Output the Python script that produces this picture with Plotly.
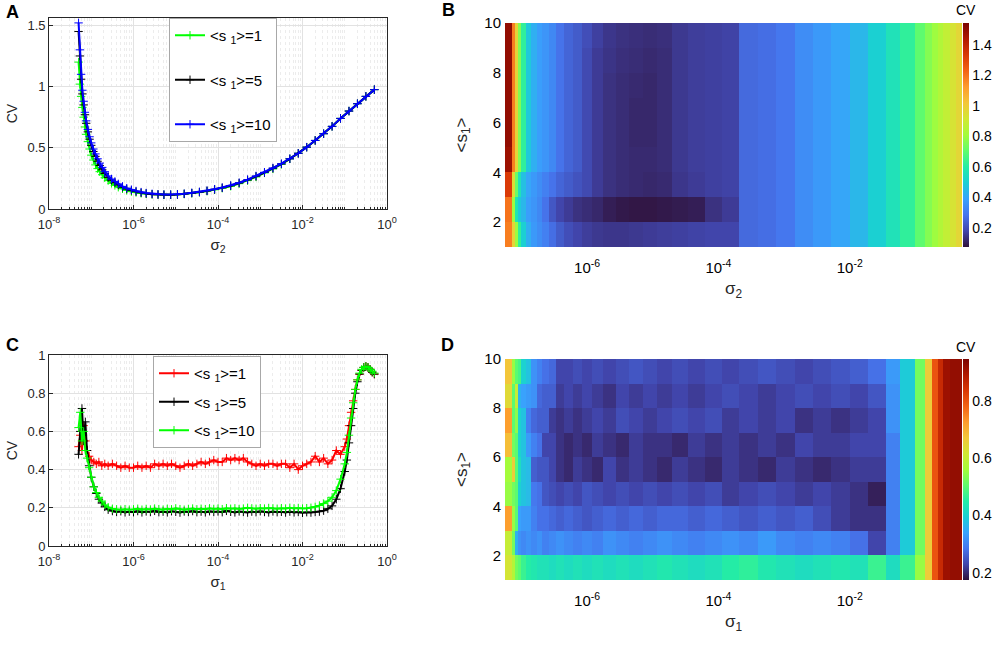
import plotly.graph_objects as go

# ---- panel A: CV vs sigma_2 (log10 of sigma_2) ----
sig2_exp = [-7.30, -7.27, -7.24, -7.21, -7.18, -7.15, -7.12, -7.08, -7.04, -7.00,
            -6.95, -6.90, -6.85, -6.80, -6.74, -6.68, -6.60, -6.52, -6.44, -6.36,
            -6.26, -6.16, -6.05, -5.94, -5.82, -5.70, -5.56, -5.42, -5.28, -5.12,
            -4.96, -4.80, -4.62, -4.44, -4.26, -4.08, -3.90, -3.70, -3.50, -3.30,
            -3.10, -2.90, -2.70, -2.50, -2.30, -2.10, -1.90, -1.70, -1.50, -1.30,
            -1.10, -0.90, -0.70, -0.50, -0.30]
cv_a_s1 = [1.20, 1.02, 0.92, 0.83, 0.75, 0.67, 0.61, 0.55, 0.49, 0.44,
           0.40, 0.36, 0.33, 0.305, 0.28, 0.255, 0.232, 0.21, 0.193, 0.178,
           0.165, 0.152, 0.142, 0.135, 0.128, 0.124, 0.12, 0.118, 0.116, 0.117,
           0.119, 0.123, 0.129, 0.137, 0.146, 0.157, 0.17, 0.186, 0.207, 0.232,
           0.262, 0.295, 0.327, 0.365, 0.41, 0.455, 0.505, 0.56, 0.615, 0.675,
           0.74, 0.80, 0.86, 0.92, 0.975]
cv_a_s5 = [1.45, 1.25, 1.06, 0.94, 0.85, 0.77, 0.70, 0.63, 0.57, 0.52,
           0.47, 0.43, 0.39, 0.355, 0.32, 0.29, 0.258, 0.235, 0.215, 0.197,
           0.178, 0.163, 0.152, 0.142, 0.133, 0.126, 0.121, 0.118, 0.116, 0.116,
           0.118, 0.123, 0.13, 0.138, 0.148, 0.16, 0.173, 0.19, 0.212, 0.237,
           0.267, 0.298, 0.332, 0.368, 0.41, 0.455, 0.505, 0.56, 0.615, 0.675,
           0.74, 0.80, 0.86, 0.92, 0.975]
cv_a_s10 = [1.52, 1.30, 1.10, 0.97, 0.88, 0.79, 0.72, 0.65, 0.59, 0.54,
            0.49, 0.45, 0.41, 0.375, 0.34, 0.305, 0.27, 0.245, 0.225, 0.205,
            0.185, 0.17, 0.158, 0.147, 0.138, 0.13, 0.124, 0.12, 0.118, 0.118,
            0.12, 0.125, 0.132, 0.14, 0.15, 0.162, 0.175, 0.192, 0.215, 0.24,
            0.27, 0.30, 0.335, 0.37, 0.41, 0.455, 0.505, 0.56, 0.615, 0.675,
            0.74, 0.80, 0.86, 0.92, 0.975]

# ---- panel C: CV vs sigma_1 (log10 of sigma_1) ----
sig1_exp = [-7.30, -7.26, -7.22, -7.18, -7.14, -7.10, -7.05, -7.00, -6.94, -6.88,
            -6.82, -6.75, -6.68, -6.60, -6.50, -6.40, -6.30, -6.20, -6.10,
            -6.0, -5.9, -5.8, -5.7, -5.6, -5.5, -5.4, -5.3, -5.2, -5.1,
            -5.0, -4.9, -4.8, -4.7, -4.6, -4.5, -4.4, -4.3, -4.2, -4.1,
            -4.0, -3.9, -3.8, -3.7, -3.6, -3.5, -3.4, -3.3, -3.2, -3.1,
            -3.0, -2.9, -2.8, -2.7, -2.6, -2.5, -2.4, -2.3, -2.2, -2.1,
            -2.0, -1.9, -1.8, -1.7, -1.6, -1.5, -1.4, -1.3,
            -1.20, -1.10, -1.00, -0.95, -0.90, -0.85, -0.80, -0.75, -0.70, -0.65,
            -0.60, -0.55, -0.50, -0.45, -0.40, -0.35, -0.30]
cv_c_s1 = [0.52, 0.58, 0.50, 0.63, 0.55, 0.50, 0.47, 0.45, 0.44, 0.43,
           0.44, 0.42, 0.43, 0.42, 0.43, 0.42, 0.41, 0.42, 0.41,
           0.41, 0.42, 0.41, 0.42, 0.41, 0.43, 0.42, 0.43, 0.42, 0.43,
           0.42, 0.41, 0.42, 0.43, 0.42, 0.43, 0.44, 0.43, 0.44, 0.45,
           0.44, 0.44, 0.46, 0.45, 0.46, 0.45, 0.46, 0.44, 0.43, 0.42,
           0.43, 0.42, 0.43, 0.43, 0.42, 0.43, 0.43, 0.41, 0.43, 0.40,
           0.42, 0.43, 0.44, 0.47, 0.44, 0.46, 0.43, 0.45,
           0.50, 0.48, 0.52, 0.56, 0.63, 0.70, 0.76, 0.82, 0.87, 0.90,
           0.92, 0.935, 0.94, 0.935, 0.925, 0.91, 0.90]
cv_c_s5 = [0.48, 0.60, 0.72, 0.55, 0.65, 0.50, 0.42, 0.36, 0.31, 0.275,
           0.245, 0.225, 0.205, 0.19, 0.183, 0.178, 0.182, 0.176, 0.18,
           0.177, 0.183, 0.176, 0.181, 0.178, 0.184, 0.177, 0.18, 0.176, 0.182,
           0.179, 0.175, 0.181, 0.178, 0.183, 0.177, 0.18, 0.176, 0.182, 0.178,
           0.181, 0.177, 0.184, 0.179, 0.176, 0.181, 0.178, 0.175, 0.18, 0.177,
           0.182, 0.178, 0.176, 0.181, 0.177, 0.179, 0.175, 0.18, 0.176, 0.178,
           0.174, 0.177, 0.175, 0.178, 0.18, 0.185, 0.195, 0.21,
           0.245, 0.30, 0.39, 0.45, 0.54, 0.63, 0.72, 0.80, 0.86, 0.90,
           0.92, 0.935, 0.94, 0.935, 0.925, 0.91, 0.90]
cv_c_s10 = [0.62, 0.70, 0.55, 0.60, 0.50, 0.46, 0.41, 0.36, 0.31, 0.28,
            0.255, 0.235, 0.215, 0.203, 0.195, 0.192, 0.19, 0.193, 0.19,
            0.192, 0.195, 0.19, 0.194, 0.191, 0.196, 0.193, 0.19, 0.195, 0.192,
            0.197, 0.193, 0.19, 0.194, 0.196, 0.192, 0.195, 0.193, 0.197, 0.194,
            0.196, 0.193, 0.198, 0.195, 0.197, 0.194, 0.196, 0.2, 0.197, 0.195,
            0.198, 0.196, 0.199, 0.197, 0.195, 0.198, 0.196, 0.2, 0.197, 0.199,
            0.196, 0.198, 0.2, 0.205, 0.212, 0.222, 0.235, 0.255,
            0.29, 0.35, 0.43, 0.49, 0.58, 0.67, 0.75, 0.82, 0.87, 0.905,
            0.925, 0.935, 0.94, 0.935, 0.925, 0.915, 0.905]

# ---- panels B and D: heatmap cells ----
cell_exp = [-7.25, -7.14, -7.10, -7.05, -7.00, -6.93, -6.85, -6.77, -6.68, -6.58,
            -6.47, -6.35, -6.22, -6.08, -5.92, -5.75, -5.56, -5.36, -5.15, -4.93,
            -4.70, -4.46, -4.21, -3.95, -3.68, -3.40, -3.12, -2.84, -2.56, -2.28,
            -2.00, -1.72, -1.44, -1.24, -1.01, -0.86, -0.75, -0.66, -0.58, -0.47,
            -0.38, -0.29]
s1_edges = [1, 2, 3, 4, 5, 6, 7, 8, 9, 10]

cv_b = [
    [1.18, 0.98, 0.80, 0.62, 0.50, 0.42, 0.37, 0.34, 0.31, 0.27, 0.23, 0.20, 0.18, 0.165,
     0.155, 0.15, 0.15, 0.155, 0.16, 0.165, 0.17, 0.175, 0.18, 0.18, 0.26, 0.27, 0.29,
     0.34, 0.37, 0.40, 0.44, 0.50, 0.56, 0.62, 0.70, 0.76, 0.80, 0.84, 0.88, 0.93, 0.97],
    [1.20, 0.80, 0.58, 0.48, 0.44, 0.38, 0.36, 0.33, 0.28, 0.22, 0.18, 0.16, 0.14, 0.13,
     0.12, 0.10, 0.09, 0.085, 0.085, 0.09, 0.095, 0.10, 0.14, 0.16, 0.26, 0.27, 0.29,
     0.34, 0.37, 0.40, 0.44, 0.50, 0.56, 0.62, 0.70, 0.76, 0.80, 0.84, 0.88, 0.93, 0.97],
    [1.33, 0.95, 0.72, 0.56, 0.46, 0.40, 0.37, 0.34, 0.31, 0.28, 0.25, 0.23, 0.21, 0.19,
     0.16, 0.14, 0.13, 0.125, 0.12, 0.125, 0.15, 0.16, 0.17, 0.175, 0.26, 0.27, 0.29,
     0.34, 0.37, 0.40, 0.44, 0.50, 0.56, 0.62, 0.70, 0.76, 0.80, 0.84, 0.88, 0.93, 0.97],
    [1.48, 1.18, 0.98, 0.76, 0.62, 0.48, 0.42, 0.38, 0.36, 0.33, 0.28, 0.25, 0.23, 0.19,
     0.16, 0.14, 0.13, 0.125, 0.125, 0.13, 0.155, 0.165, 0.17, 0.175, 0.26, 0.27, 0.29,
     0.34, 0.37, 0.40, 0.44, 0.50, 0.56, 0.62, 0.70, 0.76, 0.80, 0.84, 0.88, 0.93, 0.97],
    [1.50, 1.18, 0.98, 0.76, 0.62, 0.48, 0.42, 0.38, 0.36, 0.33, 0.28, 0.25, 0.23, 0.19,
     0.16, 0.14, 0.13, 0.12, 0.12, 0.13, 0.155, 0.165, 0.17, 0.175, 0.26, 0.27, 0.29,
     0.34, 0.37, 0.40, 0.44, 0.50, 0.56, 0.62, 0.70, 0.76, 0.80, 0.84, 0.88, 0.93, 0.97],
    [1.50, 1.18, 0.98, 0.76, 0.62, 0.48, 0.42, 0.38, 0.36, 0.33, 0.28, 0.25, 0.23, 0.19,
     0.16, 0.14, 0.13, 0.12, 0.12, 0.13, 0.155, 0.165, 0.17, 0.175, 0.26, 0.27, 0.29,
     0.34, 0.37, 0.40, 0.44, 0.50, 0.56, 0.62, 0.70, 0.76, 0.80, 0.84, 0.88, 0.93, 0.97],
    [1.50, 1.18, 0.98, 0.76, 0.62, 0.48, 0.42, 0.38, 0.36, 0.33, 0.28, 0.25, 0.23, 0.19,
     0.16, 0.14, 0.13, 0.125, 0.12, 0.13, 0.155, 0.165, 0.17, 0.175, 0.26, 0.27, 0.29,
     0.34, 0.37, 0.40, 0.44, 0.50, 0.56, 0.62, 0.70, 0.76, 0.80, 0.84, 0.88, 0.93, 0.97],
    [1.50, 1.18, 0.98, 0.76, 0.62, 0.48, 0.42, 0.38, 0.36, 0.33, 0.28, 0.25, 0.23, 0.19,
     0.16, 0.145, 0.135, 0.13, 0.125, 0.13, 0.155, 0.165, 0.17, 0.175, 0.26, 0.27, 0.29,
     0.34, 0.37, 0.40, 0.44, 0.50, 0.56, 0.62, 0.70, 0.76, 0.80, 0.84, 0.88, 0.93, 0.97],
    [1.50, 1.18, 0.98, 0.76, 0.62, 0.48, 0.42, 0.38, 0.36, 0.33, 0.28, 0.25, 0.23, 0.20,
     0.17, 0.15, 0.14, 0.135, 0.13, 0.135, 0.155, 0.165, 0.17, 0.175, 0.26, 0.27, 0.29,
     0.34, 0.37, 0.40, 0.44, 0.50, 0.56, 0.62, 0.70, 0.76, 0.80, 0.84, 0.88, 0.93, 0.97],
]

cv_d = [
    [0.62, 0.58, 0.52, 0.50, 0.47, 0.45, 0.44, 0.43, 0.43, 0.42, 0.43, 0.42, 0.43, 0.42,
     0.43, 0.42, 0.43, 0.42, 0.43, 0.44, 0.43, 0.42, 0.43, 0.45, 0.46, 0.44, 0.43, 0.42,
     0.43, 0.44, 0.43, 0.47, 0.42, 0.47, 0.55, 0.66, 0.80, 0.86, 0.91, 0.92, 0.92],
    [0.60, 0.52, 0.36, 0.32, 0.31, 0.32, 0.31, 0.32, 0.30, 0.31, 0.32, 0.31, 0.30, 0.31,
     0.30, 0.32, 0.31, 0.30, 0.31, 0.32, 0.31, 0.30, 0.31, 0.32, 0.31, 0.33, 0.31, 0.30,
     0.31, 0.30, 0.28, 0.23, 0.30, 0.39, 0.52, 0.66, 0.80, 0.86, 0.91, 0.92, 0.92],
    [0.72, 0.55, 0.50, 0.34, 0.33, 0.33, 0.30, 0.28, 0.28, 0.27, 0.26, 0.27, 0.26, 0.25,
     0.26, 0.27, 0.26, 0.27, 0.26, 0.27, 0.27, 0.26, 0.27, 0.26, 0.25, 0.26, 0.25, 0.26,
     0.24, 0.22, 0.21, 0.21, 0.30, 0.39, 0.52, 0.66, 0.80, 0.86, 0.91, 0.92, 0.92],
    [0.55, 0.52, 0.50, 0.40, 0.38, 0.37, 0.29, 0.28, 0.25, 0.24, 0.23, 0.24, 0.23, 0.25,
     0.24, 0.23, 0.24, 0.23, 0.24, 0.23, 0.24, 0.23, 0.24, 0.22, 0.23, 0.24, 0.23, 0.22,
     0.23, 0.22, 0.21, 0.19, 0.30, 0.39, 0.52, 0.66, 0.80, 0.86, 0.91, 0.92, 0.92],
    [0.56, 0.66, 0.50, 0.42, 0.38, 0.37, 0.26, 0.25, 0.25, 0.23, 0.21, 0.20, 0.22, 0.21,
     0.20, 0.23, 0.21, 0.22, 0.21, 0.20, 0.22, 0.21, 0.20, 0.22, 0.21, 0.20, 0.22, 0.21,
     0.20, 0.21, 0.22, 0.22, 0.30, 0.39, 0.52, 0.66, 0.80, 0.86, 0.91, 0.92, 0.92],
    [0.68, 0.52, 0.50, 0.40, 0.38, 0.33, 0.30, 0.28, 0.23, 0.23, 0.21, 0.20, 0.21, 0.20,
     0.22, 0.21, 0.20, 0.22, 0.21, 0.21, 0.20, 0.22, 0.21, 0.22, 0.21, 0.22, 0.21, 0.23,
     0.22, 0.22, 0.23, 0.23, 0.30, 0.39, 0.52, 0.66, 0.80, 0.86, 0.91, 0.92, 0.92],
    [0.72, 0.50, 0.54, 0.40, 0.38, 0.30, 0.27, 0.26, 0.26, 0.22, 0.21, 0.22, 0.21, 0.22,
     0.23, 0.22, 0.24, 0.23, 0.22, 0.23, 0.24, 0.23, 0.24, 0.22, 0.23, 0.22, 0.23, 0.21,
     0.22, 0.21, 0.22, 0.23, 0.32, 0.39, 0.52, 0.66, 0.80, 0.86, 0.91, 0.92, 0.92],
    [0.64, 0.50, 0.60, 0.36, 0.34, 0.33, 0.32, 0.27, 0.26, 0.26, 0.22, 0.23, 0.22, 0.23,
     0.22, 0.21, 0.23, 0.22, 0.23, 0.22, 0.23, 0.22, 0.23, 0.24, 0.23, 0.22, 0.23, 0.24,
     0.23, 0.24, 0.23, 0.25, 0.32, 0.39, 0.52, 0.66, 0.80, 0.86, 0.91, 0.92, 0.92],
    [0.67, 0.55, 0.50, 0.48, 0.40, 0.38, 0.32, 0.30, 0.28, 0.27, 0.23, 0.23, 0.24, 0.23,
     0.24, 0.23, 0.24, 0.25, 0.24, 0.23, 0.24, 0.23, 0.24, 0.23, 0.24, 0.25, 0.24, 0.23,
     0.24, 0.25, 0.26, 0.28, 0.33, 0.39, 0.52, 0.66, 0.80, 0.86, 0.91, 0.92, 0.92],
]

legend_a = ["&lt;s <sub>1</sub>&gt;=1", "&lt;s <sub>1</sub>&gt;=5", "&lt;s <sub>1</sub>&gt;=10"]

W, H = 996, 646
FONT = "Liberation Sans, Arial, sans-serif"
AX = "#262626"


def px_x(a, b):
    return [a / W, b / W]


def px_y(top, bottom):
    return [1 - bottom / H, 1 - top / H]


def sup_ticks(exps):
    return [10.0 ** e for e in exps], ["10<sup>%d</sup>" % e for e in exps]


sig2 = [10 ** e for e in sig2_exp]
sig1 = [10 ** e for e in sig1_exp]
cells = [10 ** e for e in cell_exp]

fig = go.Figure()


def add_line(x, y, name, color, xa, ya, leg, grp):
    fig.add_trace(go.Scatter(
        x=x, y=y, name=name, mode="lines+markers",
        line=dict(color=color, width=2),
        marker=dict(symbol="cross-thin", size=6, color=color,
                    line=dict(width=1, color=color)),
        xaxis=xa, yaxis=ya, legend=leg, legendgroup=grp))


add_line(sig2, cv_a_s1, legend_a[0], "#00ff00", "x", "y", "legend", "a1")
add_line(sig2, cv_a_s5, legend_a[1], "#000000", "x", "y", "legend", "a5")
add_line(sig2, cv_a_s10, legend_a[2], "#0000ff", "x", "y", "legend", "a10")

add_line(sig1, cv_c_s1, legend_a[0], "#ff0000", "x3", "y3", "legend2", "c1")
add_line(sig1, cv_c_s5, legend_a[1], "#000000", "x3", "y3", "legend2", "c5")
add_line(sig1, cv_c_s10, legend_a[2], "#00ff00", "x3", "y3", "legend2", "c10")


def cbar(top, bottom, ticks, labels):
    return dict(x=963 / W, xanchor="left", xpad=0, thickness=6,
                y=1 - (top + bottom) / 2 / H, yanchor="middle", ypad=0,
                len=(bottom - top) / H, lenmode="fraction", outlinewidth=0,
                tickvals=ticks, ticktext=labels, ticks="",
                tickfont=dict(size=14, color="black", family=FONT))


fig.add_trace(go.Heatmap(
    x=cells, y=s1_edges, z=cv_b, colorscale="Turbo", zmin=0.075, zmax=1.545,
    xaxis="x2", yaxis="y2", showscale=True,
    colorbar=cbar(23, 247, [0.2, 0.4, 0.6, 0.8, 1.0, 1.2, 1.4],
                  ["0.2", "0.4", "0.6", "0.8", "1", "1.2", "1.4"])))
fig.add_trace(go.Heatmap(
    x=cells, y=s1_edges, z=cv_d, colorscale="Turbo", zmin=0.175, zmax=0.945,
    xaxis="x4", yaxis="y4", showscale=True,
    colorbar=cbar(359, 580, [0.2, 0.4, 0.6, 0.8], ["0.2", "0.4", "0.6", "0.8"])))

lv, lt = sup_ticks([-8, -6, -4, -2, 0])
hv, ht = sup_ticks([-6, -4, -2])


def line_xaxis(dom, title, anchor):
    return dict(domain=dom, anchor=anchor, type="log", range=[-8, 0],
                tickvals=lv, ticktext=lt, ticklabelstandoff=3,
                showline=True, mirror=True, linecolor=AX, linewidth=0.8,
                ticks="inside", ticklen=4, tickcolor=AX,
                showgrid=True, gridcolor="#e2e2e2", gridwidth=0.8, zeroline=False,
                minor=dict(dtick="D1", showgrid=True, gridcolor="#ececec",
                           griddash="dot", ticks="inside", ticklen=2, tickcolor=AX),
                tickfont=dict(size=13, color=AX),
                title=dict(text=title, font=dict(size=15, color=AX), standoff=8))


def line_yaxis(dom, rng, dt, anchor):
    return dict(domain=dom, anchor=anchor, range=rng, dtick=dt, showline=True,
                mirror=True, linecolor=AX, linewidth=0.8, ticks="inside", ticklen=4,
                tickcolor=AX, showgrid=True, gridcolor="#e2e2e2", gridwidth=0.8,
                zeroline=False, tickfont=dict(size=13, color=AX),
                title=dict(text="CV", font=dict(size=14, color=AX), standoff=6))


def heat_xaxis(dom, title, anchor):
    return dict(domain=dom, anchor=anchor, type="log", range=[-7.25, -0.29],
                tickvals=hv, ticktext=ht, showgrid=False, zeroline=False, ticks="",
                ticklabelstandoff=10, showline=False,
                tickfont=dict(size=15, color="black"),
                title=dict(text=title, font=dict(size=17, color=AX), standoff=7))


def heat_yaxis(dom, anchor):
    return dict(domain=dom, anchor=anchor, range=[1, 10], tickvals=[2, 4, 6, 8, 10],
                showgrid=False, zeroline=False, ticks="", showline=False,
                ticklabelstandoff=3, tickfont=dict(size=15, color="black"),
                title=dict(text="&lt;s<sub>1</sub>&gt;", font=dict(size=17, color=AX),
                           standoff=12))


legend_common = dict(xanchor="left", yanchor="top", bgcolor="white",
                     bordercolor="#a8a8a8", borderwidth=1, itemwidth=30,
                     font=dict(size=15, color="black", family=FONT))

fig.update_layout(
    width=W, height=H, margin=dict(l=0, r=0, t=0, b=0, autoexpand=False),
    paper_bgcolor="white", plot_bgcolor="white",
    font=dict(family=FONT, color="black"),
    xaxis=line_xaxis(px_x(49, 387), "σ<sub>2</sub>", "y"),
    yaxis=line_yaxis(px_y(18, 209), [0, 1.56], 0.5, "x"),
    xaxis3=line_xaxis(px_x(49, 387), "σ<sub>1</sub>", "y3"),
    yaxis3=line_yaxis(px_y(355, 546), [0, 1], 0.2, "x3"),
    xaxis2=heat_xaxis(px_x(505, 962), "σ<sub>2</sub>", "y2"),
    yaxis2=heat_yaxis(px_y(23, 247), "x2"),
    xaxis4=heat_xaxis(px_x(505, 962), "σ<sub>1</sub>", "y4"),
    yaxis4=heat_yaxis(px_y(359, 580), "x4"),
    legend=dict(x=169 / W, y=1 - 18 / H, tracegroupgap=22, **legend_common),
    legend2=dict(x=153 / W, y=1 - 356 / H, tracegroupgap=6, **legend_common),
    showlegend=True,
)

letters = [("A", 12, 12), ("B", 448, 10), ("C", 12, 345), ("D", 447, 345)]
for txt, lx, ly in letters:
    fig.add_annotation(text="<b>%s</b>" % txt, x=lx / W, y=1 - ly / H,
                       xref="paper", yref="paper", showarrow=False,
                       xanchor="center", yanchor="middle",
                       font=dict(size=18, color="black", family=FONT))
for cy in (10, 347):
    fig.add_annotation(text="CV", x=966 / W, y=1 - cy / H, xref="paper", yref="paper",
                       showarrow=False, xanchor="center", yanchor="middle",
                       font=dict(size=14, color="black", family=FONT))

# the page body has a default 8px margin; drop it so the figure sits at the corner
fig.write_html("out.html", config={"displayModeBar": False},
               post_script="document.body.style.margin='0px';")
